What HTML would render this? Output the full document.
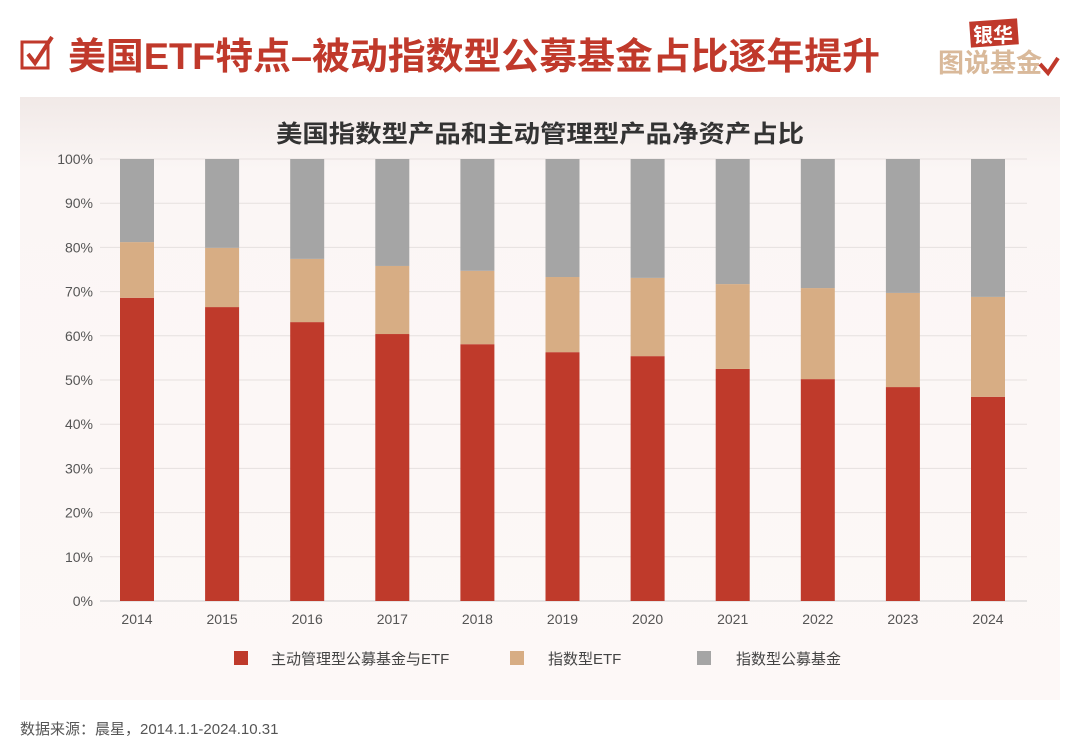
<!DOCTYPE html>
<html><head><meta charset="utf-8">
<style>
body{margin:0;width:1080px;height:749px;background:#fff;overflow:hidden;font-family:"Liberation Sans","Noto Sans CJK SC",sans-serif;}
</style></head>
<body>
<svg id="svg" width="1080" height="749" xmlns="http://www.w3.org/2000/svg">
<defs>
<linearGradient id="bg" x1="0" y1="0" x2="0" y2="1">
<stop offset="0" stop-color="#f1e9e7"/><stop offset="0.12" stop-color="#fbf6f5"/><stop offset="1" stop-color="#fdf8f7"/>
</linearGradient>
</defs>
<g>
<rect x="22" y="42" width="26" height="26" fill="none" stroke="#c0392b" stroke-width="3"/>
<path d="M28 54 L35 63 L52 37" fill="none" stroke="#c0392b" stroke-width="4"/>
<text x="68" y="69" font-size="37" font-weight="bold" fill="#c0392b" textLength="812" lengthAdjust="spacingAndGlyphs" font-family="'Liberation Sans','Noto Sans CJK SC',sans-serif">美国ETF特点–被动指数型公募基金占比逐年提升</text>
<rect x="970" y="20" width="48" height="26" fill="#c0392b" transform="rotate(-4 994 33)"/>
<text x="973" y="42" font-size="20" font-weight="bold" fill="#fff">银华</text>
<text x="938" y="72" font-size="26" font-weight="bold" fill="#d9b99a">图说基金</text>
<path d="M1040 64 L1048 73 L1058 58" fill="none" stroke="#c0392b" stroke-width="4"/>
</g>
<rect x="20" y="97" width="1040" height="603" fill="url(#bg)"/>
<text x="540" y="142" font-size="24" text-anchor="middle" fill="#333" font-weight="bold" textLength="528" lengthAdjust="spacingAndGlyphs">美国指数型产品和主动管理型产品净资产占比</text>
<g id="grid"></g><g id="bars"></g><g id="axes"></g>
<g>
<rect x="234" y="651" width="14" height="14" fill="#bf3a2b"/>
<text x="271" y="664" font-size="15" fill="#444">主动管理型公募基金与ETF</text>
<rect x="510" y="651" width="14" height="14" fill="#d7ad84"/>
<text x="548" y="664" font-size="15" fill="#444">指数型ETF</text>
<rect x="697" y="651" width="14" height="14" fill="#a5a5a5"/>
<text x="736" y="664" font-size="15" fill="#444">指数型公募基金</text>
</g>
<text x="20" y="734" font-size="15" fill="#555">数据来源：晨星，2014.1.1-2024.10.31</text>
</svg>
<script>
const categories=["2014","2015","2016","2017","2018","2019","2020","2021","2022","2023","2024"];
const activeShare=[68.6,66.5,63.1,60.4,58.1,56.3,55.4,52.5,50.2,48.4,46.2];
const indexEtfShare=[12.6,13.4,14.3,15.4,16.6,17.0,17.7,19.2,20.6,21.3,22.6];
const indexFundShare=[18.8,20.1,22.6,24.2,25.3,26.7,26.9,28.3,29.2,30.3,31.2];
const yTicks=[0,10,20,30,40,50,60,70,80,90,100];
const NS="http://www.w3.org/2000/svg";
const y0=601,y1=159,xStart=137,step=85.1,bw=34;
const y=v=>y0-(v/100)*(y0-y1);
const x=i=>xStart+i*step;
function mk(tag,attrs,parent){const e=document.createElementNS(NS,tag);for(const k in attrs)e.setAttribute(k,attrs[k]);parent.appendChild(e);return e;}
const grid=document.getElementById('grid'),bars=document.getElementById('bars'),axes=document.getElementById('axes');
yTicks.forEach(t=>{
 const l=mk('line',{x1:100,x2:1027,y1:y(t),y2:y(t),stroke:t===0?'#cfcfcf':'#e6e0df','stroke-width':1},grid);
 
 
 const tx=mk('text',{x:93,y:y(t)+5,'font-size':14,'text-anchor':'end',fill:'#555'},axes);
 tx.textContent=t+'%';
 
 
});
categories.forEach((c,i)=>{
 const a=activeShare[i],b=indexEtfShare[i],g=indexFundShare[i];
 const r1=mk('rect',{x:x(i)-bw/2,y:y(a),width:bw,height:y(0)-y(a),fill:'#bf3a2b'},bars);
 
 
 const r2=mk('rect',{x:x(i)-bw/2,y:y(a+b),width:bw,height:y(a)-y(a+b),fill:'#d7ad84'},bars);
 
 
 const r3=mk('rect',{x:x(i)-bw/2,y:y(a+b+g),width:bw,height:y(a+b)-y(a+b+g),fill:'#a5a5a5'},bars);
 
 
 const tx=mk('text',{x:x(i),y:624,'font-size':14,'text-anchor':'middle',fill:'#555'},axes);
 tx.textContent=c;
 
 
});
</script>
</body></html>
